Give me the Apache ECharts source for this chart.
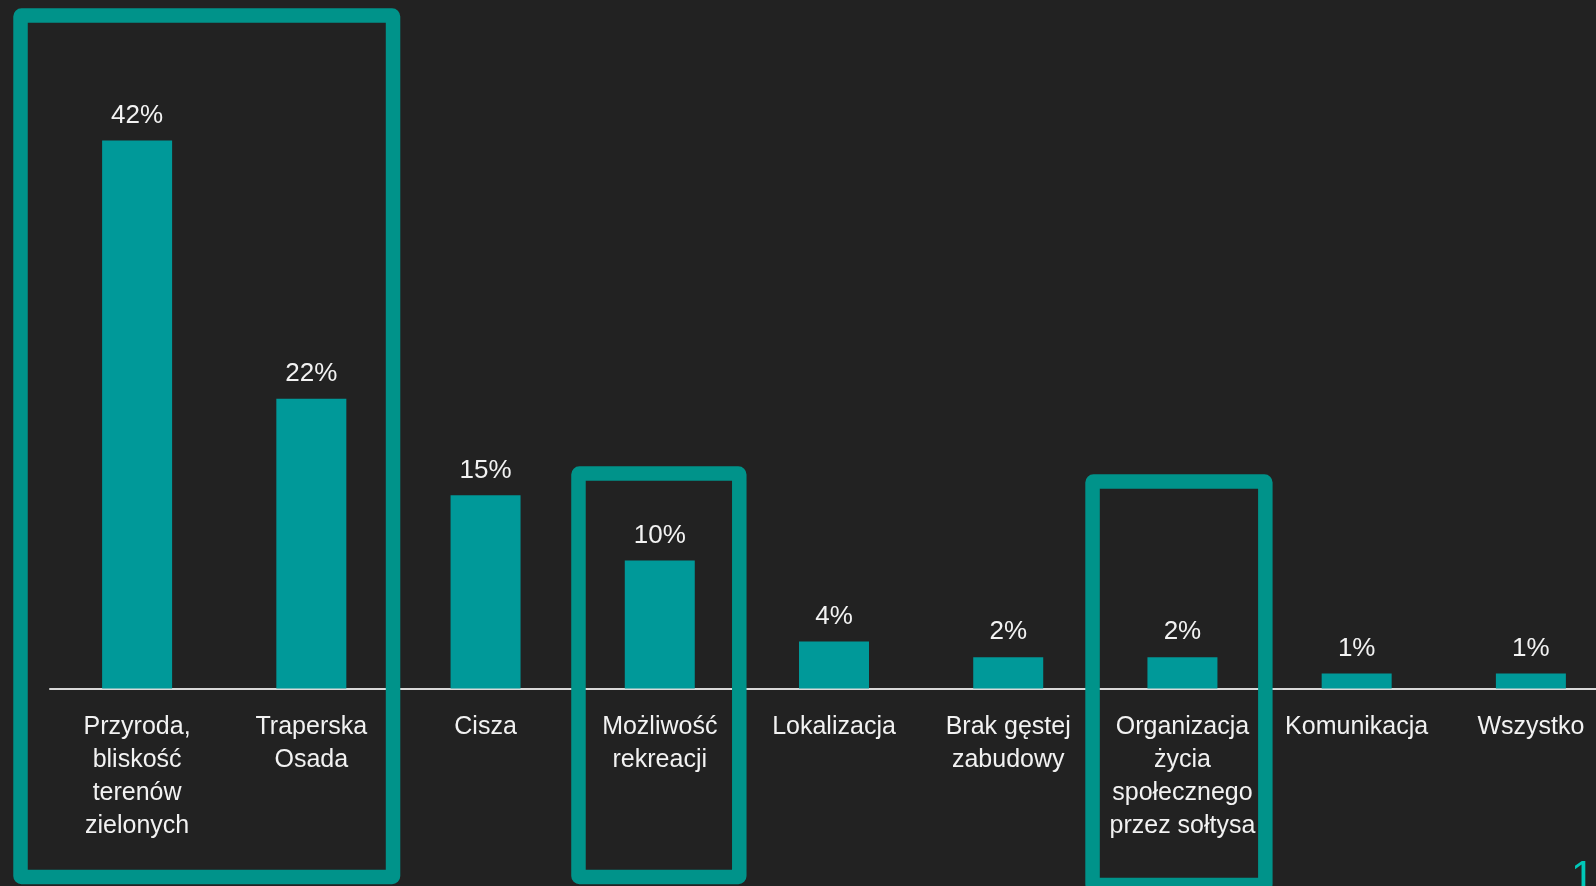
<!DOCTYPE html>
<html>
<head>
<meta charset="utf-8">
<script src="https://cdn.jsdelivr.net/npm/echarts@6/dist/echarts.min.js"></script>
<style>
html,body{margin:0;padding:0;background:#222222;}
#chart{width:1596px;height:886px;}
</style>
</head>
<body>
<div id="chart"></div>
<script>
var categories = [
  'Przyroda,\nbliskość\nterenów\nzielonych',
  'Traperska\nOsada',
  'Cisza',
  'Możliwość\nrekreacji',
  'Lokalizacja',
  'Brak gęstej\nzabudowy',
  'Organizacja\nżycia\nspołecznego\nprzez sołtysa',
  'Komunikacja',
  'Wszystko'
];
var values = [42, 22.2, 14.8, 9.8, 3.6, 2.4, 2.4, 1.15, 1.15];
var highlightedGroups = [[0, 1], [3, 3], [6, 6]];
var pageNumber = '1';

var FONT = "'Liberation Sans', Arial, sans-serif";
var chart = echarts.init(document.getElementById('chart'));

chart.setOption({
  backgroundColor: '#222222',
  animation: false,
  grid: { left: 50, right: -22, top: 36, bottom: 197.5, containLabel: false, outerBoundsMode: 'none' },
  xAxis: {
    type: 'category',
    data: categories,
    axisLine: { show: true, lineStyle: { color: '#D9D9D9', width: 2 } },
    axisTick: { show: false },
    axisLabel: {
      interval: 0,
      color: '#F2F2F2',
      fontFamily: FONT,
      fontSize: 25,
      lineHeight: 33,
      margin: 22,
      align: 'center'
    }
  },
  yAxis: {
    type: 'value',
    min: 0,
    max: 50,
    show: false,
    splitLine: { show: false }
  },
  series: [{
    type: 'bar',
    data: values,
    barWidth: 70,
    itemStyle: { color: '#009999' },
    label: {
      show: true,
      position: 'top',
      distance: 12,
      color: '#F2F2F2',
      fontFamily: FONT,
      fontSize: 26,
      formatter: function (p) { return Math.round(p.value) + '%'; }
    }
  }]
});

// annotation boxes derived from category positions
var boxExtents = [
  { left: -116.6, right: 81.7, top: 15.5, bottom: 877 },
  { left: -81.3, right: 79.5, top: 473.5, bottom: 877 },
  { left: -89.9, right: 82.9, top: 481.5, bottom: 885 }
];
var graphics = highlightedGroups.map(function (g, i) {
  var x0 = chart.convertToPixel({ xAxisIndex: 0 }, categories[g[0]]);
  var x1 = chart.convertToPixel({ xAxisIndex: 0 }, categories[g[1]]);
  var e = boxExtents[i];
  var l = x0 + e.left, r = x1 + e.right;
  return {
    type: 'rect',
    z: 100,
    shape: { x: l, y: e.top, width: r - l, height: e.bottom - e.top, r: 1 },
    style: { fill: null, stroke: '#00938A', lineWidth: 14.5, lineJoin: 'round' }
  };
});
graphics.push({
  type: 'text',
  z: 100,
  left: 1571,
  top: 857,
  style: { text: pageNumber, fill: '#00C8B8', font: '42px ' + FONT }
});
chart.setOption({ graphic: graphics });
</script>
</body>
</html>
